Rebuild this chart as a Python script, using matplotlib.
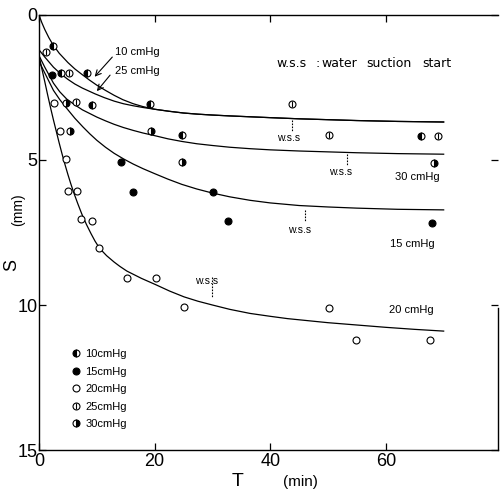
import matplotlib
matplotlib.use("Agg")
import matplotlib.pyplot as plt
from matplotlib.lines import Line2D

plt.rcParams['font.family'] = ['Liberation Sans', 'DejaVu Sans']

# ---- measured points (T in min, S in mm) ----
t10 = [2.4, 3.8, 8.3, 9.2, 19.2, 24.7, 66.1]
s10 = [1.07, 2.0, 2.0, 3.1, 3.07, 4.15, 4.17]

t15 = [2.2, 14.2, 16.3, 30.1, 32.7, 68.0]
s15 = [2.07, 5.07, 6.1, 6.1, 7.1, 7.17]

t20 = [2.6, 3.6, 4.6, 5.0, 6.6, 7.3, 9.2, 10.4, 15.2, 20.2, 25.1, 50.2, 54.8, 67.6]
s20 = [3.05, 4.0, 4.97, 6.07, 6.07, 7.03, 7.1, 8.03, 9.07, 9.07, 10.07, 10.1, 11.2, 11.2]

t25 = [1.2, 5.2, 6.4, 43.8, 50.2, 69.0]
s25 = [1.28, 2.0, 3.0, 3.07, 4.15, 4.17]

t30 = [4.7, 5.4, 19.4, 24.7, 68.3]
s30 = [3.05, 4.0, 4.0, 5.07, 5.1]

# ---- fitted curves ----
c10_t = [0, 0.5, 1, 1.7, 2.4, 3.5, 5, 6.2, 7.5, 8.7, 10, 11.5, 13, 14.5, 16.3, 18, 20, 22.5, 25, 27.5, 30, 33, 36.5, 40, 45, 50, 55, 62, 70]
c10_s = [0, 0.27, 0.5, 0.78, 1.02, 1.32, 1.64, 1.86, 2.06, 2.24, 2.42, 2.6, 2.77, 2.92, 3.06, 3.16, 3.25, 3.32, 3.38, 3.42, 3.45, 3.48, 3.51, 3.54, 3.58, 3.61, 3.64, 3.67, 3.69]

c25_t = [0, 1, 2.5, 3.7, 5, 6.2, 7.5, 8.6, 9.7, 11.3, 13, 14.6, 16.3, 18, 20, 22.5, 25, 27.5, 30, 33, 36.5, 40, 45, 50, 55, 62, 70]
c25_s = [1.2, 1.45, 1.8, 2.02, 2.22, 2.38, 2.52, 2.62, 2.72, 2.85, 2.97, 3.06, 3.13, 3.19, 3.25, 3.32, 3.38, 3.42, 3.45, 3.48, 3.51, 3.54, 3.58, 3.61, 3.64, 3.67, 3.69]

c30_t = [0, 1, 2.5, 3.6, 4.8, 6.2, 7.5, 8.8, 10, 11.5, 13, 14.6, 16.3, 18, 20, 22.3, 24.7, 27.3, 30, 33, 36.5, 40, 45, 50, 55, 62, 70]
c30_s = [1.4, 1.8, 2.35, 2.65, 2.9, 3.1, 3.27, 3.4, 3.52, 3.65, 3.77, 3.88, 3.98, 4.07, 4.16, 4.27, 4.36, 4.44, 4.5, 4.56, 4.61, 4.65, 4.69, 4.72, 4.75, 4.78, 4.8]

c15_t = [0, 1, 2.5, 3.6, 4.8, 6.2, 7.6, 8.8, 10, 11.5, 13, 14.6, 16.3, 18, 20, 22.3, 24.7, 27.3, 30, 33, 36.5, 40, 45, 50, 55, 62, 70]
c15_s = [1.6, 2.0, 2.6, 2.92, 3.22, 3.56, 3.86, 4.1, 4.32, 4.56, 4.77, 4.96, 5.14, 5.3, 5.47, 5.66, 5.84, 6.0, 6.14, 6.27, 6.39, 6.48, 6.57, 6.62, 6.66, 6.7, 6.72]

c20_t = [0, 0.5, 1, 1.5, 2, 2.5, 3, 3.5, 4, 4.5, 5, 5.5, 6, 6.7, 7.4, 8.2, 9, 9.7, 10.5, 11.7, 13, 14, 15.2, 17.7, 20.2, 22.6, 25.1, 27.5, 30, 33, 36.5, 40, 43, 46.5, 50, 55, 60, 65, 70]
c20_s = [1.4, 1.86, 2.3, 2.76, 3.2, 3.62, 4.02, 4.42, 4.8, 5.16, 5.5, 5.82, 6.12, 6.5, 6.86, 7.22, 7.54, 7.8, 8.05, 8.3, 8.52, 8.67, 8.83, 9.08, 9.3, 9.52, 9.72, 9.87, 10.0, 10.15, 10.29, 10.39, 10.47, 10.54, 10.61, 10.69, 10.77, 10.84, 10.9]

# water suction start marks
wss_t = [43.8, 53.2, 46.0, 29.9]
wss_top = [3.62, 4.8, 6.72, 9.03]
wss_bot = [4.03, 5.2, 7.14, 9.76]
wss_lab_t = [43.2, 52.1, 45.1, 29.0]
wss_lab_s = [4.25, 5.42, 7.42, 9.17]

fig = plt.figure(figsize=(5.0, 4.93), dpi=100)
ax = fig.add_axes([0.078, 0.0872, 0.918, 0.8824])

lw = 0.9
for ct, cs in [(c10_t, c10_s), (c25_t, c25_s), (c30_t, c30_s), (c15_t, c15_s), (c20_t, c20_s)]:
    ax.plot(ct, cs, color='black', lw=lw)

ms = 5
mew = 0.8
h10, = ax.plot(t10, s10, ls='none', marker='o', ms=ms, mec='black', mew=mew,
               fillstyle='left', mfc='black', mfcalt='white')
h15, = ax.plot(t15, s15, ls='none', marker='o', ms=ms, mec='black', mew=mew, mfc='black')
h20, = ax.plot(t20, s20, ls='none', marker='o', ms=ms, mec='black', mew=mew, mfc='white')
ax.plot(t25, s25, ls='none', marker='o', ms=ms, mec='black', mew=mew, mfc='white')
ax.plot(t25, s25, ls='none', marker='|', ms=ms, mec='black', mew=mew)
h30, = ax.plot(t30, s30, ls='none', marker='o', ms=ms, mec='black', mew=mew,
               fillstyle='right', mfc='black', mfcalt='white')

h25a = Line2D([], [], ls='none', marker='o', ms=ms, mec='black', mew=mew, mfc='white')
h25b = Line2D([], [], ls='none', marker='|', ms=ms, mec='black', mew=mew)
ax.legend([h10, h15, h20, (h25a, h25b), h30],
          ['10cmHg', '15cmHg', '20cmHg', '25cmHg', '30cmHg'],
          loc='upper left', bbox_to_anchor=(0.055, 0.25), frameon=False,
          fontsize=8, handlelength=0.8, handletextpad=0.4, labelspacing=0.68,
          borderpad=0.2)

for wt, a, b in zip(wss_t, wss_top, wss_bot):
    ax.plot([wt, wt], [a, b], color='black', lw=0.8, ls=(0, (1.5, 1.2)))
for lt, ls_ in zip(wss_lab_t, wss_lab_s):
    ax.text(lt, ls_, 'w.s.s', fontsize=7.5, ha='center', va='center')

# header note, word by word to mimic the wide spacing
note_words = ['w.s.s', ':', 'water', 'suction', 'start']
note_t = [41.0, 47.9, 48.9, 56.7, 66.3]
for w, x in zip(note_words, note_t):
    ax.text(x, 1.66, w, fontsize=9, ha='left', va='center', family='DejaVu Sans')

ax.text(13.1, 1.28, '10 cmHg', fontsize=8, ha='left', va='center')
ax.text(13.1, 1.93, '25 cmHg', fontsize=8, ha='left', va='center')
ax.annotate('', xy=(9.3, 2.2), xytext=(13.0, 1.38),
            arrowprops=dict(arrowstyle='->', color='black', lw=0.8))
ax.annotate('', xy=(9.7, 2.7), xytext=(12.6, 2.0),
            arrowprops=dict(arrowstyle='->', color='black', lw=0.8))

ax.text(61.6, 5.6, '30 cmHg', fontsize=8, ha='left', va='center')
ax.text(60.7, 7.9, '15 cmHg', fontsize=8, ha='left', va='center')
ax.text(60.5, 10.17, '20 cmHg', fontsize=8, ha='left', va='center')

ax.set_xlim(0, 79.4)
ax.set_ylim(15, 0)
ax.set_xticks([0, 20, 40, 60])
ax.set_yticks([0, 5, 10, 15])
ax.tick_params(direction='in', length=5, width=0.9, labelsize=13, pad=2,
               top=True, right=True)
ax.tick_params(axis='y', pad=1)
for side in ['left', 'bottom', 'top', 'right']:
    ax.spines[side].set_linewidth(1.0)
ax.spines['right'].set_bounds(10.1, 15)

fig.text(0.024, 0.462, 'S', fontsize=13, rotation=90, ha='center', va='center')
fig.text(0.036, 0.574, '(mm)', fontsize=10, rotation=90, ha='center', va='center')
fig.text(0.476, 0.024, 'T', fontsize=14, ha='center', va='center')
fig.text(0.600, 0.022, '(min)', fontsize=11, ha='center', va='center')

fig.savefig('out.png', dpi=100)
